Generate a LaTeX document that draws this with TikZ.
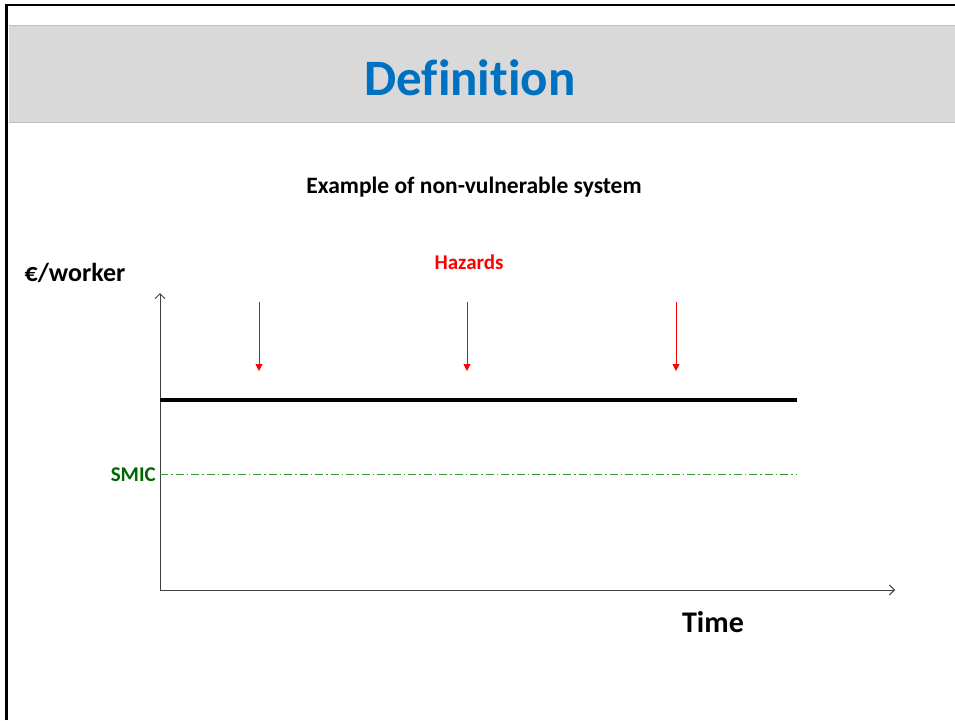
\documentclass[tikz,border=0pt]{standalone}
\usepackage{fontspec}
\setmainfont[Ligatures=NoCommon]{Carlito}
\usetikzlibrary{arrows.meta}
\definecolor{titleblue}{HTML}{0070C0}
\definecolor{bandgray}{HTML}{D9D9D9}
\definecolor{bandline}{HTML}{BFBFBF}
\definecolor{smicgreen}{HTML}{006600}
\definecolor{smicline}{HTML}{3A9A3A}
\definecolor{axisgray}{HTML}{404040}
\begin{document}
\begin{tikzpicture}[x=1pt,y=-1pt,
  axis/.style={draw=axisgray,line width=0.9pt,-{Straight Barb[length=5pt,width=10pt]}},
  hazard/.style={draw=red,line width=0.9pt,-{Triangle[length=7pt,width=7pt]}},
  lbl/.style={inner sep=0pt,font=\bfseries}]
\useasboundingbox (0,0) rectangle (955,720);
% frame
\fill[bandgray] (9,25) rectangle (955,122);
\draw[bandline,line width=1pt] (9,25) -- (955,25);
\draw[bandline,line width=1pt] (9,122) -- (955,122);
\draw[black,line width=2.5pt] (6.5,720) -- (6.5,5) -- (955,5);
% texts
\node[lbl,text=titleblue,font=\bfseries\fontsize{51}{56}\selectfont] (title) at (470,78) {Definition};
\node[lbl,font=\bfseries\fontsize{23.5}{26}\selectfont] (sub) at (474,187) {Example of non-vulnerable system};
\node[lbl,text=red,font=\bfseries\fontsize{21}{24}\selectfont] (haz) at (469,262) {Hazards};
\node[lbl,font=\bfseries\fontsize{26}{30}\selectfont] (ylab) at (75,273) {€/worker};
\node[lbl,font=\bfseries\fontsize{30}{34}\selectfont] (xlab) at (713,622) {Time};
% axes
\coordinate (O) at (160,590);
\coordinate (ytip) at (160,293);
\coordinate (xtip) at (895,590);
\draw[axis] (O) -- (ytip);
\draw[axis] (O) -- (xtip);
% level lines
\coordinate (L0) at (160,400);
\coordinate (L1) at (797,400);
\draw[black,line width=3.5pt] (L0) -- (L1);
\node[lbl,text=smicgreen,anchor=east,font=\bfseries\fontsize{21}{24}\selectfont] (smic) at (156,475) {SMIC};
\coordinate (S1) at (797,474);
\draw[smicline,line width=0.8pt,dash pattern=on 8pt off 3pt on 1.5pt off 3pt] (smic.east |- S1) ++(4,0) -- (S1);
% hazards
\foreach \x/\n in {259/a,467/b,676/c}{
  \coordinate (h\n0) at (\x,302);
  \coordinate (h\n1) at (\x,371);
  \draw[hazard] (h\n0) -- (h\n1);
}
\end{tikzpicture}
\end{document}
